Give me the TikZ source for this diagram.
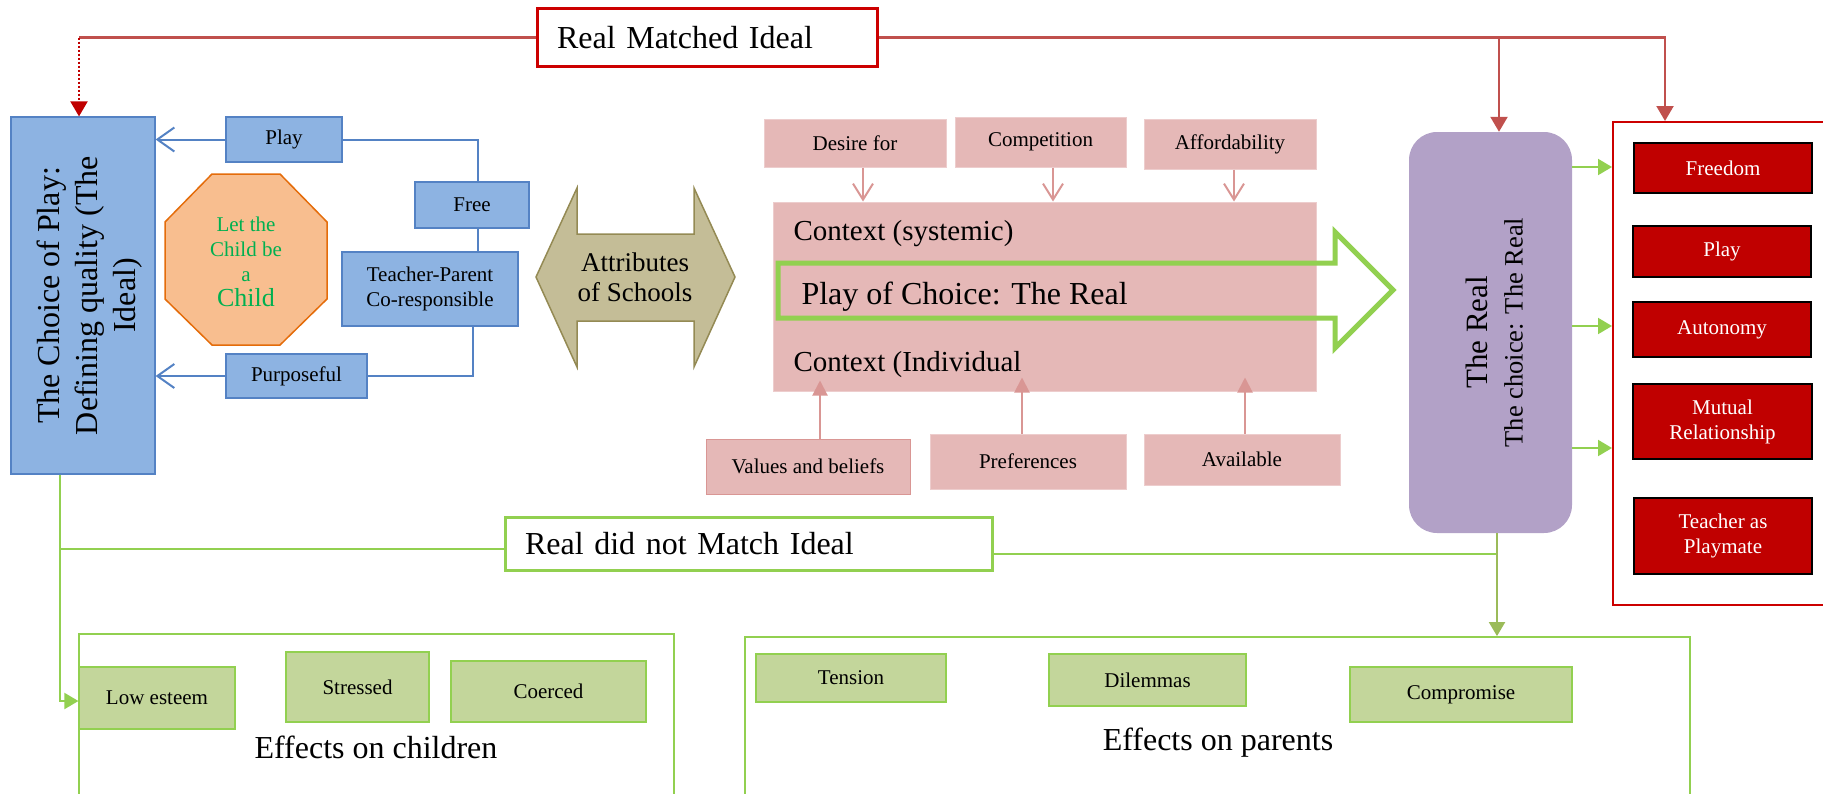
\documentclass[tikz,border=0pt]{standalone}
\usepackage{fontspec}
\setmainfont{Liberation Serif}
\usetikzlibrary{arrows.meta,calc}

\definecolor{bluefill}{RGB}{141,179,226}
\definecolor{blueline}{RGB}{84,130,196}
\definecolor{octfill}{RGB}{248,190,143}
\definecolor{octline}{RGB}{228,108,10}
\definecolor{octtext}{RGB}{0,176,80}
\definecolor{olivefill}{RGB}{196,189,151}
\definecolor{oliveline}{RGB}{148,138,84}
\definecolor{pinkfill}{RGB}{229,184,183}
\definecolor{pinkline}{RGB}{217,150,148}
\definecolor{greenline}{RGB}{146,208,80}
\definecolor{greendark}{RGB}{155,187,89}
\definecolor{greenfill}{RGB}{195,214,155}
\definecolor{purplefill}{RGB}{178,161,199}
\definecolor{redfill}{RGB}{192,0,0}
\definecolor{redconnc}{RGB}{192,80,77}
\definecolor{redbox}{RGB}{204,0,0}

\newcommand\fsm{\fontsize{21}{25}\selectfont}
\newcommand\fbg{\fontsize{32}{38}\selectfont}
\newcommand\fctx{\fontsize{29}{34}\selectfont}

\begin{document}
\begin{tikzpicture}[x=1pt,y=-1pt,
  box/.style={rectangle, inner sep=1pt, align=center, font=\fsm, text=black},
  bluebox/.style={box, fill=bluefill, draw=blueline, line width=1.2pt},
  pinkbox/.style={box, fill=pinkfill, draw=pinkfill!70!white, line width=1pt},
  redin/.style={box, fill=redfill, draw=black, line width=2.2pt, text=white},
  greenbox/.style={box, fill=greenfill, draw=greenline, line width=1.2pt},
  frame/.style={rectangle, draw=greenline, line width=1.8pt},
  blueconn/.style={draw=blueline, line width=2pt},
  bluearrow/.style={blueconn, -{Straight Barb[length=17pt,width=24pt,line width=2pt]}},
  redconn/.style={draw=redconnc, line width=2.2pt},
  redtip/.style={-{Triangle[length=15pt,width=17pt]}},
  pinkconn/.style={draw=pinkline, line width=2pt},
  greenconn/.style={draw=greenline, line width=2pt},
  greentip/.style={-{Triangle[length=14pt,width=16pt]}},
]
\useasboundingbox (0,0) rectangle (1823,793);
\clip (0,0) rectangle (1823,793);

% ---------- top label ----------
\node[rectangle, draw=redbox, line width=3pt, fill=white, font=\fbg,
      minimum width=340pt, minimum height=58pt, text width=300pt, inner xsep=20pt, align=left]
      (rmi) at (707,37.5) {Real Matched Ideal};

% ---------- left blue cluster ----------
\node[bluebox, minimum width=144pt, minimum height=357pt] (ideal) at (83,295.5) {};
\node[rotate=90, align=center, font=\fbg] (idealtxt) at ([xshift=7pt]ideal.center)
      {The Choice of Play:\\Defining quality (The\\Ideal)};

\node[bluebox, minimum width=116pt, minimum height=45pt] (play) at (284,139.5) {Play};
\node[bluebox, minimum width=114pt, minimum height=46pt] (free) at (472,205) {Free};
\node[bluebox, minimum width=176pt, minimum height=74pt] (tp) at (430,289) {Teacher-Parent\\Co-responsible};
\node[bluebox, minimum width=141pt, minimum height=44pt] (purp) at (296.5,376) {Purposeful};

\draw[draw=octline, fill=octfill, line width=1.5pt]
  (212,174) -- (280,174) -- (327,222) -- (327,299) -- (280,345) -- (212,345) -- (165,299) -- (165,222) -- cycle;
\node[align=center, text=octtext, font=\fsm] (lcb) at (246,262)
  {Let the\\Child be\\a\\{\fontsize{26}{27}\selectfont Child}};

\coordinate (bj) at (478,0);
\coordinate (bk) at (473,0);
\draw[bluearrow] (play.west) -- (play.west -| ideal.east);
\draw[blueconn] (play.east) -- (play.east -| bj) -- (bj |- free.north);
\draw[blueconn] (bj |- free.south) -- (bj |- tp.north);
\draw[blueconn] (bk |- tp.south) -- (bk |- purp.east) -- (purp.east);
\draw[bluearrow] (purp.west) -- (purp.west -| ideal.east);

% ---------- attributes double arrow ----------
\draw[draw=oliveline, fill=olivefill, line width=1.5pt]
  (536,277) -- (577,188) -- (577,234) -- (694,234) -- (694,188) -- (735,277)
  -- (694,367) -- (694,321) -- (577,321) -- (577,367) -- cycle;
\node[align=center, font=\fontsize{27}{30}\selectfont] (attr) at (635,277) {Attributes\\of Schools};

% ---------- context cluster ----------
\node[pinkbox, minimum width=182pt, minimum height=48pt] (desire) at (855,143) {Desire for};
\node[pinkbox, minimum width=171pt, minimum height=50pt] (comp) at (1040.5,142) {Competition};
\node[pinkbox, minimum width=172pt, minimum height=50pt] (afford) at (1230,144) {Affordability};
\node[pinkbox, minimum width=543pt, minimum height=189pt] (context) at (1044.5,296.5) {};
\node[pinkbox, draw=pinkline, minimum width=204pt, minimum height=55pt] (values) at (808,466.5) {Values and beliefs};
\node[pinkbox, minimum width=196pt, minimum height=55pt] (prefs) at (1028,461.5) {Preferences};
\node[pinkbox, minimum width=196pt, minimum height=51pt] (avail) at (1242,459.5) {Available};

\draw[pinkconn, -{Straight Barb[length=16pt,width=20pt,line width=2pt]}] (desire.south -| 863,0) -- (context.north -| 863,0);
\draw[pinkconn, -{Straight Barb[length=16pt,width=20pt,line width=2pt]}] (comp.south -| 1053,0) -- (context.north -| 1053,0);
\draw[pinkconn, -{Straight Barb[length=16pt,width=20pt,line width=2pt]}] (afford.south -| 1234,0) -- (context.north -| 1234,0);

\draw[greenline, line width=5pt, line join=miter]
  (778,263) -- (1335,263) -- (1335,232) -- (1393,290) -- (1335,348) -- (1335,318) -- (778,318) -- cycle;

\node[anchor=west, font=\fctx] (ctxsys) at (790,234) {Context (systemic)};
\node[anchor=west, font=\fbg] (poc) at (798,297) {Play of Choice: The Real};
\node[anchor=west, font=\fctx] (ctxind) at (790,365) {Context (Individual};

\draw[pinkconn, -{Triangle[length=15pt,width=15pt]}, shorten >=-11pt] (values.north -| 820,0) -- (context.south -| 820,0);
\draw[pinkconn, -{Triangle[length=15pt,width=15pt]}, shorten >=-14pt] (prefs.north -| 1022,0) -- (context.south -| 1022,0);
\draw[pinkconn, -{Triangle[length=15pt,width=15pt]}, shorten >=-14pt] (avail.north -| 1245,0) -- (context.south -| 1245,0);

% ---------- the real ----------
\node[rectangle, rounded corners=28pt, fill=purplefill, minimum width=163pt, minimum height=401pt] (real) at (1490.5,332.5) {};
\node[rotate=90, align=center, font=\fontsize{26.5}{35}\selectfont] (realtxt) at ([xshift=4pt]real.center)
  {{\fontsize{31}{35}\selectfont The Real}\\The choice: The Real};

\node[rectangle, draw=redbox, line width=2pt, minimum width=240pt, minimum height=483pt] (outer) at (1733,363.5) {};
\node[redin, minimum width=178pt, minimum height=50pt] (freedom) at (1723,168) {Freedom};
\node[redin, minimum width=178pt, minimum height=51pt] (playr) at (1722,251.5) {Play};
\node[redin, minimum width=178pt, minimum height=55pt] (auton) at (1722,329.5) {Autonomy};
\node[redin, minimum width=179pt, minimum height=75pt] (mutual) at (1722.5,421.5) {Mutual\\Relationship};
\node[redin, minimum width=178pt, minimum height=76pt] (teacher) at (1723,536) {Teacher as\\Playmate};

\foreach \yy in {167,326,448}
  \draw[greenconn, greentip] (real.east |- 0,\yy) -- (outer.west |- 0,\yy);

% ---------- red connectors ----------
\coordinate (rl) at (79,0);
\coordinate (rr) at (1665,0);
\coordinate (rb) at (1499,0);
\draw[redconn] (rmi.west) -- (rmi.west -| rl);
\draw[draw=redfill, line width=2pt, dash pattern=on 2pt off 2pt, redtip] (rmi.west -| rl) -- (rl |- ideal.north);
\draw[redconn, redtip] (rmi.east) -- (rmi.east -| rr) -- (rr |- outer.north);
\draw[redconn, redtip] (rmi.east -| rb) -- (rb |- real.north);

% ---------- real did not match ----------
\node[rectangle, draw=greenline, line width=3pt, fill=white, font=\fbg,
      minimum width=487pt, minimum height=53pt, text width=447pt, inner xsep=20pt, align=left]
      (nomatch) at (748.5,543.5) {Real did not Match Ideal};

% ---------- effects ----------
\node[frame, minimum width=595pt, minimum height=166pt] (children) at (376.5,717) {};
\node[greenbox, minimum width=156pt, minimum height=62pt] (lowest) at (157,698) {Low esteem};
\node[greenbox, minimum width=143pt, minimum height=70pt] (stressed) at (357.5,687) {Stressed};
\node[greenbox, minimum width=195pt, minimum height=61pt] (coerced) at (548.5,691.5) {Coerced};
\node[font=\fbg] (effch) at (376,747) {Effects on children};

\node[frame, minimum width=945pt, minimum height=163pt] (parents) at (1217.5,718.5) {};
\node[greenbox, minimum width=190pt, minimum height=48pt] (tension) at (851,678) {Tension};
\node[greenbox, minimum width=197pt, minimum height=52pt] (dilem) at (1147.5,680) {Dilemmas};
\node[greenbox, line width=2pt, minimum width=222pt, minimum height=55pt] (compro) at (1461,694.5) {Compromise};
\node[font=\fbg] (effpa) at (1218,743) {Effects on parents};

% ---------- green connectors ----------
\coordinate (gl) at (60,0);
\coordinate (gr) at (1497,0);
\draw[greenconn, greentip] (gl |- ideal.south) -- (gl |- 0,701) -- (lowest.west |- 0,701);
\draw[greenconn] (nomatch.west |- 0,549) -- (gl |- 0,549);
\draw[greenconn] (nomatch.east |- 0,554) -- (gr |- 0,554);
\draw[draw=greendark, line width=2pt, greentip] (gr |- real.south) -- (gr |- parents.north);
\end{tikzpicture}
\end{document}
